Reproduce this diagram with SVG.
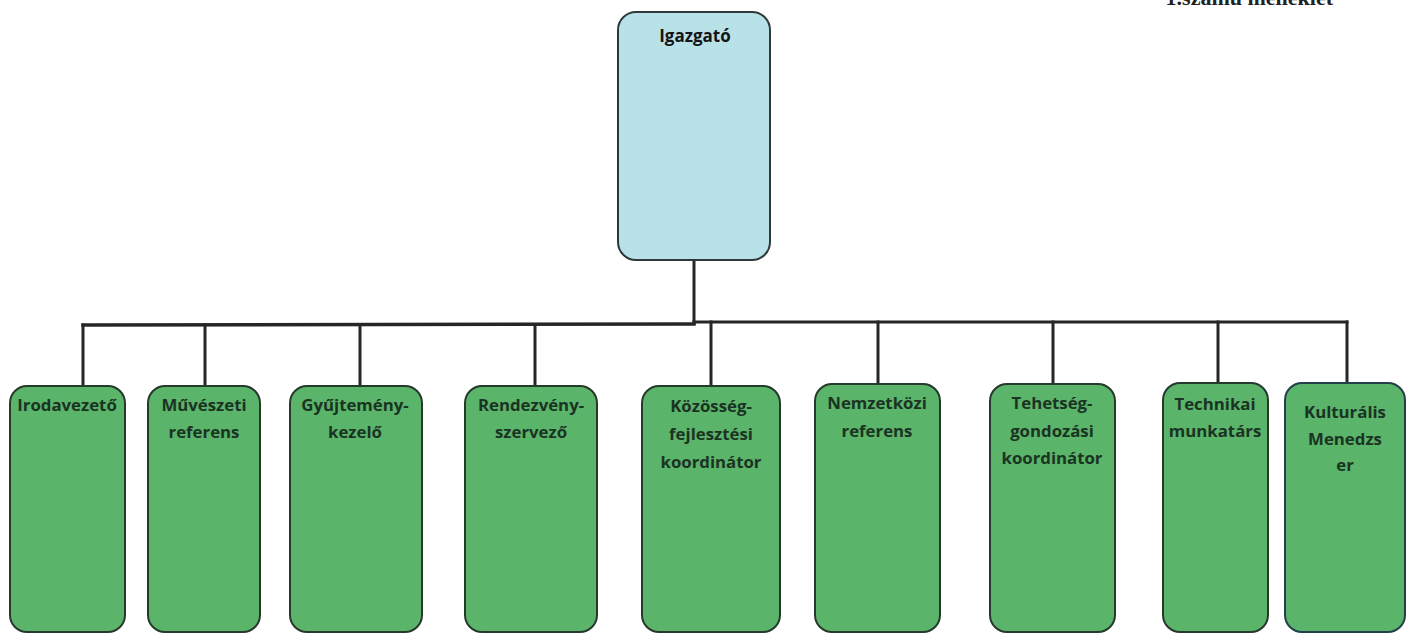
<svg xmlns="http://www.w3.org/2000/svg" width="1412" height="634" viewBox="0 0 1412 634">
<style>
.bg{fill:#ffffff}
.top{fill:#b9e1e8;stroke:#2e3a3a;stroke-width:2}
.box{fill:#5ab46a;stroke:#263a2c;stroke-width:2}
.conn{stroke:#262626;stroke-width:3;fill:none;stroke-linecap:square}
.lbl{font-family:"Open Sans","Liberation Sans",sans-serif;font-weight:700;font-size:16.8px;fill:#1b3322;text-anchor:middle}
.tlbl{font-family:"Open Sans","Liberation Sans",sans-serif;font-weight:700;font-size:17px;fill:#151515;text-anchor:middle}
.note{font-family:"Liberation Serif",serif;font-weight:700;font-size:22px;fill:#222;text-anchor:end}
</style>
<rect class="bg" x="0" y="0" width="1412" height="634"/>
<text class="note" x="1333" y="5">1.számú melléklet</text>
<g id="connectors">
<line class="conn" x1="694" y1="260" x2="694" y2="323"/>
<line class="conn" x1="83" y1="325" x2="694" y2="324" style="stroke-width:3.5"/>
<line class="conn" x1="694" y1="322" x2="1347" y2="322"/>
<line class="conn" x1="83" y1="325" x2="83" y2="386"/>
<line class="conn" x1="205" y1="325" x2="205" y2="386"/>
<line class="conn" x1="360" y1="325" x2="360" y2="386"/>
<line class="conn" x1="535" y1="325" x2="535" y2="386"/>
<line class="conn" x1="711" y1="322" x2="711" y2="386"/>
<line class="conn" x1="878" y1="322" x2="878" y2="385"/>
<line class="conn" x1="1053" y1="322" x2="1053" y2="384"/>
<line class="conn" x1="1218" y1="322" x2="1218" y2="384"/>
<line class="conn" x1="1347" y1="322" x2="1347" y2="384"/>
</g>
<g id="igazgato">
<rect class="top" x="618" y="12" width="152" height="248" rx="18"/>
<text class="tlbl" x="695" y="42">Igazgató</text>
</g>
<g id="irodavezeto">
<rect class="box" x="10" y="386" width="115" height="246" rx="17"/>
<text class="lbl" x="67" y="411">Irodavezető</text>
</g>
<g id="muveszeti">
<rect class="box" x="148" y="386" width="112" height="246" rx="17"/>
<text class="lbl" x="204" y="411">Művészeti</text>
<text class="lbl" x="204" y="438">referens</text>
</g>
<g id="gyujtemeny">
<rect class="box" x="290" y="386" width="132" height="246" rx="17"/>
<text class="lbl" x="355" y="411">Gyűjtemény-</text>
<text class="lbl" x="355" y="438">kezelő</text>
</g>
<g id="rendezveny">
<rect class="box" x="465" y="386" width="132" height="246" rx="17"/>
<text class="lbl" x="531" y="411">Rendezvény-</text>
<text class="lbl" x="531" y="438">szervező</text>
</g>
<g id="kozosseg">
<rect class="box" x="642" y="386" width="138" height="246" rx="17"/>
<text class="lbl" x="711" y="412">Közösség-</text>
<text class="lbl" x="711" y="440">fejlesztési</text>
<text class="lbl" x="711" y="468">koordinátor</text>
</g>
<g id="nemzetkozi">
<rect class="box" x="815" y="384" width="125" height="248" rx="17"/>
<text class="lbl" x="877" y="409">Nemzetközi</text>
<text class="lbl" x="877" y="437">referens</text>
</g>
<g id="tehetseg">
<rect class="box" x="990" y="384" width="125" height="248" rx="17"/>
<text class="lbl" x="1052" y="409">Tehetség-</text>
<text class="lbl" x="1052" y="437">gondozási</text>
<text class="lbl" x="1052" y="464">koordinátor</text>
</g>
<g id="technikai">
<rect class="box" x="1163" y="383" width="105" height="249" rx="17"/>
<text class="lbl" x="1215" y="410">Technikai</text>
<text class="lbl" x="1215" y="437">munkatárs</text>
</g>
<g id="kulturalis">
<rect class="box" x="1285" y="383" width="120" height="249" rx="17" style="stroke:#23404a"/>
<text class="lbl" x="1345" y="418">Kulturális</text>
<text class="lbl" x="1345" y="445">Menedzs</text>
<text class="lbl" x="1345" y="471">er</text>
</g>
</svg>
